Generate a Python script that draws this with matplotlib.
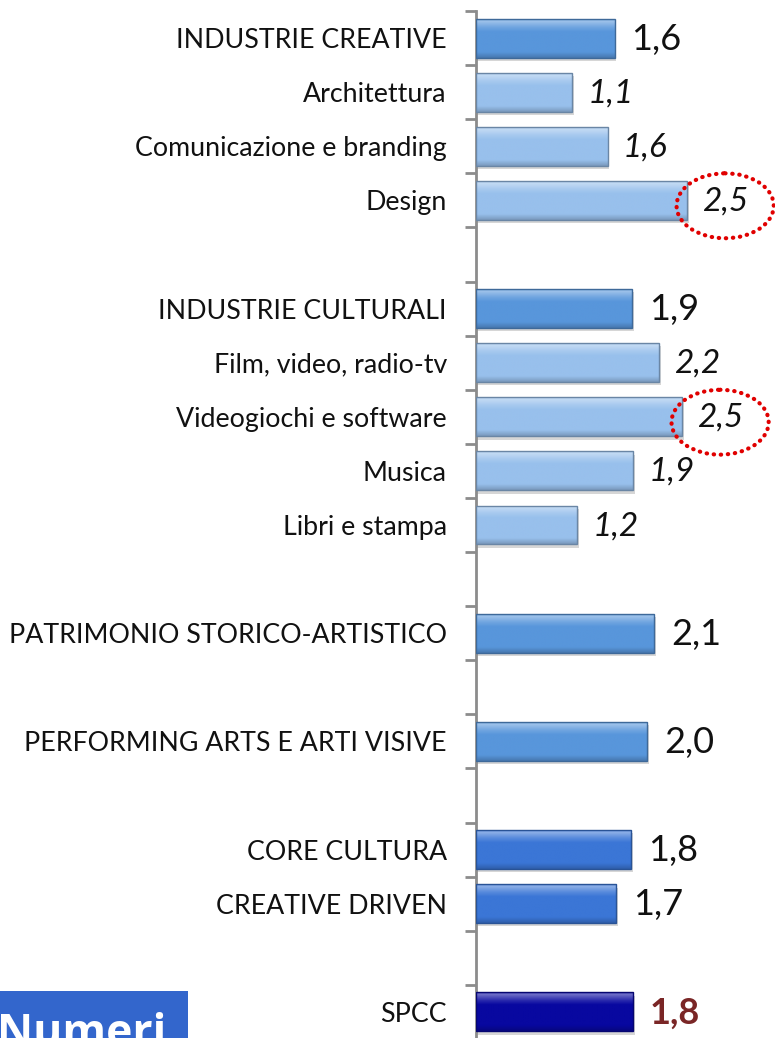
import numpy as np
import matplotlib
matplotlib.use("Agg")
import matplotlib.pyplot as plt
from matplotlib.patches import Ellipse, Rectangle
from matplotlib.colors import to_rgb

# Bars, top to bottom
categories = ["INDUSTRIE CREATIVE", "Architettura", "Comunicazione e branding", "Design",
              "INDUSTRIE CULTURALI", "Film, video, radio-tv", "Videogiochi e software",
              "Musica", "Libri e stampa", "PATRIMONIO STORICO-ARTISTICO",
              "PERFORMING ARTS E ARTI VISIVE", "CORE CULTURA", "CREATIVE DRIVEN", "SPCC"]
values = [1.64, 1.14, 1.56, 2.50, 1.85, 2.17, 2.44, 1.86, 1.20, 2.11, 2.03, 1.84, 1.66, 1.86]
value_labels = ["1,6", "1,1", "1,6", "2,5", "1,9", "2,2", "2,5", "1,9", "1,2",
                "2,1", "2,0", "1,8", "1,7", "1,8"]
kinds = ["head", "sub", "sub", "sub", "head", "sub", "sub", "sub", "sub",
         "head", "head", "total", "total", "spcc"]
# an empty row follows these bars
gap_after = [3, 8, 9, 10, 12]
highlighted = [3, 6]

colors = {"head": "#5896DB", "sub": "#98C0EC", "total": "#3B76D6", "spcc": "#0808A0"}

plt.rcParams['font.family'] = ['Lato', 'DejaVu Sans']

# row of every bar, leaving empty rows between groups
rows = []
r = 0
for i in range(len(categories)):
    rows.append(r)
    r += 2 if i in gap_after else 1
n_rows = r

fig = plt.figure(figsize=(7.75, 10.38), dpi=100)
ax = fig.add_axes([476 / 775, -1 / 1038, 1 - 476 / 775, 1028 / 1038])
ax.set_xlim(0, 3.54)
ax.set_ylim(n_rows - 0.5, -0.5)

bar_h = 0.72


def lighten(c, f):
    c = np.array(to_rgb(c))
    return tuple(c + (1 - c) * f)


def darken(c, f):
    return tuple(np.array(to_rgb(c)) * (1 - f))


# soft shadow
ax.barh([y + 0.06 for y in rows], [v + 0.02 for v in values], height=bar_h,
        color="#000000", alpha=0.16, zorder=1)
bars = ax.barh(rows, values, height=bar_h, color=[colors[k] for k in kinds],
               edgecolor=[darken(colors[k], 0.3) for k in kinds], linewidth=1.0, zorder=2)

# bevel-like vertical gradient inside each bar
t = np.linspace(0, 1, 80)
prof = np.interp(t, [0, 0.05, 0.2, 0.32, 0.85, 1.0], [0.2, 0.42, 0.15, 0.0, 0.0, -0.2])
for b, k in zip(bars, kinds):
    base = colors[k]
    img = np.zeros((len(t), 1, 3))
    for j, p in enumerate(prof):
        img[j, 0] = lighten(base, p) if p >= 0 else darken(base, -p)
    x0, y0 = b.get_x(), b.get_y()
    im = ax.imshow(img, extent=[x0, x0 + b.get_width(), y0 + b.get_height(), y0],
                   aspect="auto", zorder=3, interpolation="bilinear")
    im.set_clip_path(b)
    b.set_zorder(4)
    b.set_facecolor("none")

for i, (y, v, lab, k) in enumerate(zip(rows, values, value_labels, kinds)):
    if k == "sub":
        ax.text(v + 0.18, y + 0.02, lab, ha="left", va="center", fontsize=24,
                style="italic", color="#111111")
    elif k == "spcc":
        ax.text(v + 0.2, y + 0.02, lab, ha="left", va="center", fontsize=26,
                weight="bold", color="#7A2626")
    else:
        ax.text(v + 0.2, y + 0.02, lab, ha="left", va="center", fontsize=26,
                color="#111111")

# red dotted circles around the highest values
for i in highlighted:
    e = Ellipse((values[i] + 0.45, rows[i] + 0.1), 1.15, 1.2, fill=False,
                edgecolor="#E00000", linewidth=3, linestyle=(0, (0.1, 1.6)),
                clip_on=False, zorder=5)
    e.set_capstyle("round")
    ax.add_patch(e)

# axis: ticks between rows, labels on rows
ax.set_yticks(np.arange(-0.5, n_rows, 1.0))
ax.set_yticklabels([])
ax.set_yticks(rows, minor=True)
ax.set_yticklabels(categories, minor=True, fontsize=19.3, color="#111111")
ax.tick_params(axis="y", which="major", length=8, width=2, color="#8C8C8C", direction="out")
ax.tick_params(axis="y", which="minor", length=0, pad=21)
ax.set_xticks([])
for s in ["top", "right", "bottom"]:
    ax.spines[s].set_visible(False)
ax.spines["left"].set_color("#8C8C8C")
ax.spines["left"].set_linewidth(2)
ax.patch.set_alpha(0)

# "Numeri" tag, cut at the bottom edge
fig.patches.append(Rectangle((0, 0), 188 / 775, 47 / 1038, transform=fig.transFigure,
                             facecolor="#3366CC", edgecolor="none", zorder=0))
fig.text(-3 / 775, -8 / 1038, "Numeri", color="white", fontsize=32, weight="bold",
         family=["Open Sans", "DejaVu Sans"], ha="left", va="baseline")

plt.savefig("out.png", dpi=100)
